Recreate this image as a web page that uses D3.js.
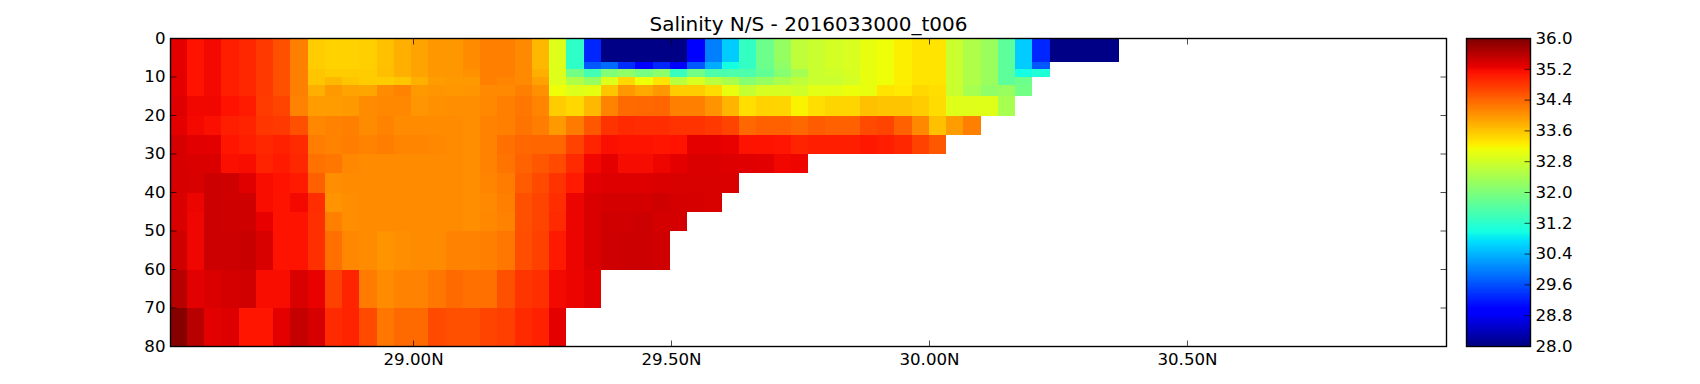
<!DOCTYPE html>
<html>
<head>
<meta charset="utf-8">
<style>
  html, body { margin: 0; background: #fff; }
  text { font-family: "DejaVu Sans", sans-serif; fill: #000; }
  .axis line { stroke: #000; stroke-width: 0.7; }
</style>
</head>
<body>
<div id="wrapper"></div>
<script src="https://cdn.jsdelivr.net/npm/d3@7"></script>
<script>
// 1. Data, salinity, shallow to deep, south to north.
// each row stops where the sea floor starts
const depthEdges = [0, 6, 8, 10, 12, 15, 20, 25, 30, 35, 40, 45, 50, 60, 70, 80]
const latStart = 28.527
const latStep = 0.03345
const latRange = [28.529, 31.002]

const salt0to6 = [35.3,35.12,35.2,35.03,34.95,34.8,34.6,34.2,33.55,33.5,33.5,33.53,33.65,33.8,33.9,34,34,34.1,34.2,34.2,34.12,33.72,32.95,31.25,29.3,28.05,28.05,28.05,28.05,28.05,28.9,30,30.6,31.3,31.85,32.25,32.65,32.75,32.85,32.9,33.05,33.12,33.25,33.35,33.35,32.75,32.5,32.3,31.7,30.6,29.3,28.05,28.05,28.05,28.05]
const salt6to8 = [35.3,35.12,35.2,35.03,34.95,34.8,34.6,34.2,33.55,33.5,33.5,33.53,33.65,33.8,33.9,34,34,34.1,34.2,34.2,34.12,33.72,32.95,31.25,29.7,29.85,29.35,29,29.3,28.85,29.7,30.35,31,31.3,31.85,32.2,32.65,32.75,32.85,32.9,33.05,33.12,33.25,33.35,33.35,32.75,32.5,32.3,31.7,30.6,29.7]
const salt8to10 = [35.3,35.12,35.2,35.03,34.95,34.8,34.6,34.2,33.6,33.55,33.55,33.55,33.67,33.8,33.9,34,34,34.05,34.2,34.2,34.12,33.8,32.95,31.9,31.45,32.05,32.2,31.95,32.15,31.35,31.9,31.55,31.55,31.55,31.75,32.1,32.4,32.75,32.8,32.88,33.05,33.12,33.25,33.35,33.35,32.75,32.5,32.3,31.7,31,31.1]
const salt10to12 = [35.3,35.12,35.2,35.03,34.95,34.8,34.6,34.2,33.6,33.72,33.6,33.55,33.55,33.6,33.8,33.95,33.98,33.98,34.2,34.15,34.12,33.92,32.95,32.5,32.25,32.95,33.45,33.12,33.35,32.6,32.9,32.6,32.45,32.1,32.25,32.45,32.65,32.75,32.75,32.85,33.05,33.12,33.25,33.35,33.35,32.75,32.5,32.3,31.7,31.85]
const salt12to15 = [35.3,35.12,35.2,35.03,34.95,34.8,34.6,34.2,33.8,33.98,33.9,33.88,34.1,34.18,33.98,34.02,34,34.02,34.12,34.12,34.2,34.05,33.12,32.95,33.03,33.6,34,33.85,34,33.55,33.55,33.42,33.07,32.72,32.88,32.88,32.8,33,33.02,33.1,33.05,33.35,33.3,33.45,33.4,32.75,32.42,32.2,32.28,31.9]
const salt15to20 = [35.35,35.22,35.22,35.12,35.05,34.78,34.7,34.18,33.95,33.95,33.98,34.1,34.13,34.13,34.02,34.05,34.07,34.07,34.13,34.2,34.28,34.16,33.55,33.45,33.72,34.17,34.38,34.4,34.42,34.2,34.2,34.03,33.75,33.4,33.5,33.48,33.22,33.4,33.48,33.48,33.65,33.62,33.62,33.55,33.42,32.95,32.97,32.97,32.42]
const salt20to25 = [35.3,35.2,35.15,35.03,34.98,34.82,34.8,34.6,34.13,34.17,34.2,34.1,34.18,34.1,34.1,34.1,34.1,34.07,34.18,34.2,34.3,34.22,33.98,34.24,34.55,34.85,34.92,34.9,34.9,34.85,34.85,34.8,34.7,34.4,34.47,34.47,34.4,34.5,34.47,34.47,34.65,34.7,34.47,34.13,33.65,33.95,34.2]
const salt25to30 = [35.4,35.32,35.3,35.1,35.03,34.95,35,34.92,34.22,34.17,34.22,34.17,34.22,34.16,34.15,34.13,34.1,34.07,34.17,34.33,34.4,34.42,34.42,34.72,34.98,35.15,35.13,35.13,35.1,35.12,35.3,35.3,35.27,35.13,35.13,35.1,34.98,35.03,35.03,35.03,35.08,35.03,34.95,34.72,34.55]
const salt30to35 = [35.4,35.37,35.37,35.15,35.17,34.98,35.06,34.95,34.32,34.27,34.13,34.1,34.1,34.1,34.1,34.1,34.1,34.07,34.17,34.3,34.45,34.55,34.65,34.92,35.22,35.3,35.18,35.18,35.24,35.3,35.37,35.37,35.35,35.33,35.32,35.22,35.24]
const salt35to40 = [35.4,35.38,35.47,35.45,35.33,35.17,35.12,35.06,34.47,34.07,34.1,34.1,34.1,34.1,34.1,34.1,34.1,34.07,34.15,34.23,34.5,34.65,34.85,35.06,35.32,35.35,35.35,35.35,35.37,35.38,35.38,35.38,35.37]
const salt40to45 = [35.38,35.25,35.47,35.45,35.46,35.17,35.13,35.2,34.9,34.03,34.07,34.1,34.1,34.1,34.1,34.1,34.1,34.07,34.12,34.2,34.6,34.7,34.9,35.25,35.37,35.42,35.42,35.42,35.45,35.42,35.4,35.38]
const salt45to50 = [35.38,35.23,35.47,35.45,35.46,35.28,35.13,35.13,34.87,34.2,34.07,34.1,34.1,34.1,34.1,34.1,34.1,34.07,34.13,34.17,34.6,34.7,34.92,35.25,35.37,35.45,35.44,35.47,35.42,35.42]
const salt50to60 = [35.45,35.23,35.47,35.47,35.5,35.38,35.13,35.13,34.87,34.33,34.13,34.1,34.03,34.07,34.1,34.1,34.17,34.17,34.2,34.27,34.62,34.73,35.07,35.25,35.37,35.45,35.47,35.47,35.44]
const salt60to70 = [35.62,35.32,35.37,35.42,35.44,35.17,35.17,35.38,35.27,34.73,34.98,34.23,34.1,34.17,34.17,34.27,34.38,34.33,34.33,34.6,34.83,34.88,35.2,35.25,35.32]
const salt70to80 = [35.95,35.6,35.32,35.35,35.1,35.1,35.3,35.52,35.4,34.92,34.98,34.65,34.27,34.38,34.38,34.65,34.6,34.6,34.7,34.75,34.92,35,35.3]

const saltRows = [salt0to6, salt6to8, salt8to10, salt10to12, salt12to15, salt15to20, salt20to25, salt25to30, salt30to35, salt35to40, salt40to45, salt45to50, salt50to60, salt60to70, salt70to80]

const latTicks = [29, 29.5, 30, 30.5]
const depthTicks = [0, 10, 20, 30, 40, 50, 60, 70, 80]
const barTicks = [28, 28.8, 29.6, 30.4, 31.2, 32, 32.8, 33.6, 34.4, 35.2, 36]

const titleText = "Salinity N/S - 2016033000_t006"

// 2. Dimensions
const dimensions = {
  width: 1700,
  height: 384,
  margin: { top: 38.5, right: 253.5, bottom: 37.5, left: 170.5 },
  barLeft: 1466.5,
  barRight: 1530.5,
}
const plotRight = dimensions.width - dimensions.margin.right
const plotBottom = dimensions.height - dimensions.margin.bottom

// 3. Draw canvas
const svg = d3
  .select("#wrapper")
  .append("svg")
  .attr("width", dimensions.width)
  .attr("height", dimensions.height)
  .style("display", "block")

svg
  .append("clipPath")
  .attr("id", "plot-clip")
  .append("rect")
  .attr("x", dimensions.margin.left)
  .attr("y", dimensions.margin.top)
  .attr("width", plotRight - dimensions.margin.left)
  .attr("height", plotBottom - dimensions.margin.top)

// 4. Scales
const xScale = d3
  .scaleLinear()
  .domain(latRange)
  .range([dimensions.margin.left, plotRight])
const yScale = d3
  .scaleLinear()
  .domain([0, 80])
  .range([dimensions.margin.top, plotBottom])
const barScale = d3
  .scaleLinear()
  .domain([28, 36])
  .range([plotBottom, dimensions.margin.top])

// matplotlib jet, piecewise per channel
const jetRed = d3.scaleLinear().domain([0, 0.35, 0.66, 0.89, 1]).range([0, 0, 1, 1, 0.5]).clamp(true)
const jetGreen = d3.scaleLinear().domain([0, 0.125, 0.375, 0.64, 0.91, 1]).range([0, 0, 1, 1, 0, 0]).clamp(true)
const jetBlue = d3.scaleLinear().domain([0, 0.11, 0.34, 0.65, 1]).range([0.5, 1, 1, 0, 0]).clamp(true)
const colorScale = v => {
  const t = (v - 28) / 8
  return d3.rgb(jetRed(t) * 255, jetGreen(t) * 255, jetBlue(t) * 255).formatRgb()
}

// 5. Draw data
const rows = svg
  .append("g")
  .attr("clip-path", "url(#plot-clip)")
  .attr("shape-rendering", "crispEdges")
  .selectAll("g")
  .data(saltRows)
  .enter()
  .append("g")

rows
  .selectAll("rect")
  .data((row, rowIndex) => row.map((value, col) => ({ value, col, rowIndex })))
  .enter()
  .append("rect")
  .attr("x", d => xScale(latStart + d.col * latStep))
  .attr("width", d => xScale(latStart + (d.col + 1) * latStep) - xScale(latStart + d.col * latStep))
  .attr("y", d => yScale(depthEdges[d.rowIndex]))
  .attr("height", d => yScale(depthEdges[d.rowIndex + 1]) - yScale(depthEdges[d.rowIndex]))
  .attr("fill", d => colorScale(d.value))

// colorbar, one band per jet level
const barLevels = d3.range(256)
svg
  .append("g")
  .attr("shape-rendering", "crispEdges")
  .selectAll("rect")
  .data(barLevels)
  .enter()
  .append("rect")
  .attr("x", dimensions.barLeft)
  .attr("width", dimensions.barRight - dimensions.barLeft)
  .attr("y", d => barScale(28 + ((d + 1) / 256) * 8))
  .attr("height", d => barScale(28 + (d / 256) * 8) - barScale(28 + ((d + 1) / 256) * 8) + 0.5)
  .attr("fill", d => colorScale(28 + ((d + 0.5) / 256) * 8))

// 6. Draw peripherals
const frame = (x0, x1) =>
  svg
    .append("rect")
    .attr("x", x0)
    .attr("y", dimensions.margin.top)
    .attr("width", x1 - x0)
    .attr("height", plotBottom - dimensions.margin.top)
    .attr("fill", "none")
    .attr("stroke", "#000")
    .attr("stroke-width", 1.39)

const formatLat = d => d3.format(".2f")(d) + "N"
const styleAxis = g => {
  g.select(".domain").remove()
  g.selectAll("text").style("font-size", "16.67px").style("font-family", '"DejaVu Sans", sans-serif')
}

svg
  .append("g")
  .attr("class", "axis")
  .attr("transform", `translate(0,${plotBottom})`)
  .call(d3.axisBottom(xScale).tickValues(latTicks).tickFormat(formatLat).tickSizeInner(-6).tickSizeOuter(0).tickPadding(7).offset(0))
  .call(styleAxis)
svg
  .append("g")
  .attr("class", "axis")
  .attr("transform", `translate(0,${dimensions.margin.top})`)
  .call(d3.axisTop(xScale).tickValues(latTicks).tickFormat("").tickSizeInner(-6).tickSizeOuter(0).offset(0))
  .call(styleAxis)
svg
  .append("g")
  .attr("class", "axis")
  .attr("transform", `translate(${dimensions.margin.left},0)`)
  .call(d3.axisLeft(yScale).tickValues(depthTicks).tickFormat(d3.format("d")).tickSizeInner(-6).tickSizeOuter(0).tickPadding(5).offset(0))
  .call(styleAxis)
svg
  .append("g")
  .attr("class", "axis")
  .attr("transform", `translate(${plotRight},0)`)
  .call(d3.axisRight(yScale).tickValues(depthTicks).tickFormat("").tickSizeInner(-6).tickSizeOuter(0).offset(0))
  .call(styleAxis)
svg
  .append("g")
  .attr("class", "axis")
  .attr("transform", `translate(${dimensions.barRight},0)`)
  .call(d3.axisRight(barScale).tickValues(barTicks).tickFormat(d3.format(".1f")).tickSizeInner(-6).tickSizeOuter(0).tickPadding(5).offset(0))
  .call(styleAxis)

frame(dimensions.margin.left, plotRight)
frame(dimensions.barLeft, dimensions.barRight)

svg
  .append("text")
  .attr("x", (dimensions.margin.left + plotRight) / 2)
  .attr("y", 31)
  .attr("text-anchor", "middle")
  .style("font-size", "20px")
  .text(titleText)
</script>
</body>
</html>
